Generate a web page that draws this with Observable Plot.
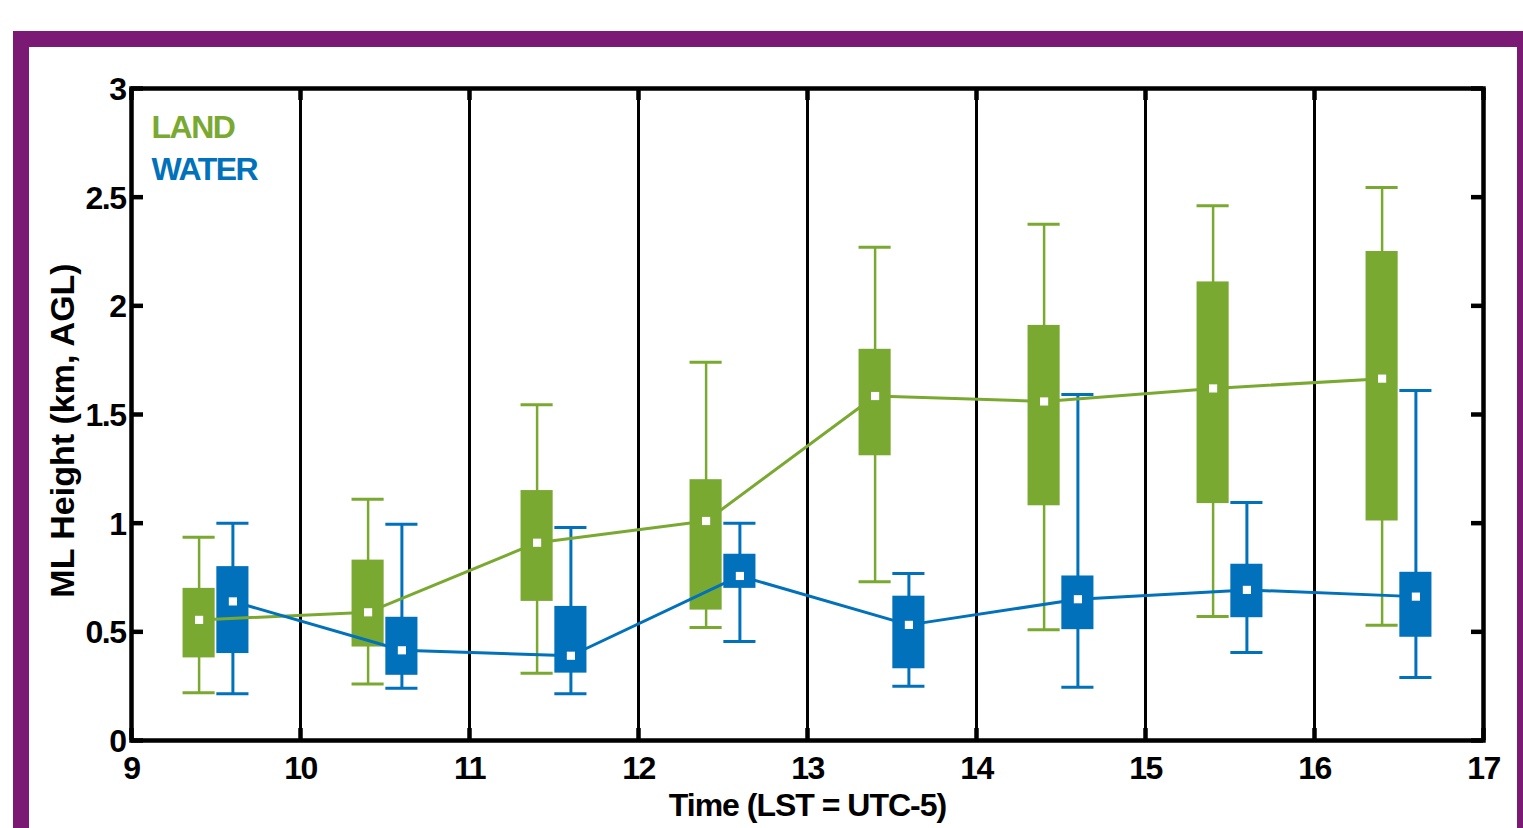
<!DOCTYPE html>
<html><head><meta charset="utf-8">
<script src="https://cdn.jsdelivr.net/npm/d3@7"></script>
<script src="https://cdn.jsdelivr.net/npm/@observablehq/plot@0.6"></script>
<style>
html,body{margin:0;padding:0;background:#fff;overflow:hidden;}
#wrap{position:relative;width:1523px;height:828px;overflow:hidden;background:#fff;}
#chart{position:absolute;left:0;top:0;}
#border{position:absolute;left:13px;top:31px;width:1520px;height:900px;border:16px solid #7B1A74;box-sizing:border-box;pointer-events:none;}
</style></head>
<body>
<div id="wrap"><div id="chart"></div><div id="border"></div></div>
<script>
// ---- data (km AGL) ----
const hours = [9, 10, 11, 12, 13, 14, 15, 16];
const landMin = [0.22, 0.26, 0.31, 0.52, 0.73, 0.51, 0.57, 0.53];
const landQ1  = [0.38, 0.43, 0.64, 0.60, 1.31, 1.08, 1.09, 1.01];
const landMed = [0.555, 0.59, 0.91, 1.01, 1.585, 1.56, 1.62, 1.665];
const landQ3  = [0.70, 0.83, 1.15, 1.20, 1.80, 1.91, 2.11, 2.25];
const landMax = [0.935, 1.11, 1.545, 1.74, 2.27, 2.375, 2.46, 2.545];
const waterMin = [0.215, 0.24, 0.215, 0.455, 0.25, 0.245, 0.405, 0.29];
const waterQ1  = [0.40, 0.30, 0.31, 0.70, 0.33, 0.51, 0.565, 0.475];
const waterMed = [0.64, 0.415, 0.39, 0.757, 0.532, 0.65, 0.693, 0.662];
const waterQ3  = [0.80, 0.567, 0.617, 0.857, 0.664, 0.757, 0.811, 0.774];
const waterMax = [1.0, 0.995, 0.98, 1.0, 0.768, 1.592, 1.095, 1.61];
const seriesNames = ["LAND", "WATER"];
const xTicks = [9, 10, 11, 12, 13, 14, 15, 16, 17];
const yTicks = [0, 0.5, 1, 1.5, 2, 2.5, 3];
const yTickLabels = ["0", "0.5", "1", "1.5", "2", "2.5", "3"];
const xLabel = "Time (LST = UTC-5)";
const yLabel = "ML Height (km, AGL)";

// ---- build ----
const green = "#7AA932", blue = "#0071BA";
const W = 1523, H = 828, mL = 131, mR = 40, mT = 88, mB = 88;
const pw = W - mL - mR, ph = H - mT - mB, tl = 12;
const hw = 0.095;
const mk = (off, mn, q1, md, q3, mx) => hours.map((h, i) => ({x: h + off, min: mn[i], q1: q1[i], med: md[i], q3: q3[i], max: mx[i]}));
const land = mk(0.4, landMin, landQ1, landMed, landQ3, landMax);
const water = mk(0.6, waterMin, waterQ1, waterMed, waterQ3, waterMax);

function boxMarks(data, color, ws) {
  return [
    Plot.ruleX(data, {x: "x", y1: "min", y2: "max", stroke: color, strokeWidth: ws}),
    Plot.ruleY(data, {x1: d => d.x - hw, x2: d => d.x + hw, y: "min", stroke: color, strokeWidth: 3}),
    Plot.ruleY(data, {x1: d => d.x - hw, x2: d => d.x + hw, y: "max", stroke: color, strokeWidth: 3}),
    Plot.rect(data, {x1: d => d.x - hw, x2: d => d.x + hw, y1: "q1", y2: "q3", fill: color})
  ];
}

const chart = Plot.plot({
  width: W, height: H,
  marginLeft: mL, marginRight: mR, marginTop: mT, marginBottom: mB,
  style: {fontFamily: "'Liberation Sans', Arial, Helvetica, sans-serif", background: "transparent"},
  x: {domain: [9, 17], axis: null},
  y: {domain: [0, 3], axis: null},
  marks: [
    Plot.ruleX(xTicks.slice(1, -1), {x: d => d, stroke: "black", strokeWidth: 3}),
    ...boxMarks(land, green, 2.5),
    ...boxMarks(water, blue, 3),
    Plot.line(land, {x: "x", y: "med", stroke: green, strokeWidth: 3}),
    Plot.line(water, {x: "x", y: "med", stroke: blue, strokeWidth: 3}),
    Plot.dot(land.concat(water), {x: "x", y: "med", symbol: "square", r: 4.6, fill: "white"}),
    Plot.frame({stroke: "black", strokeWidth: 4.5}),
    Plot.tickX(xTicks, {x: d => d, insetTop: ph - tl, stroke: "black", strokeWidth: 4.5}),
    Plot.tickX(xTicks, {x: d => d, insetBottom: ph - tl, stroke: "black", strokeWidth: 4.5}),
    Plot.tickY(yTicks, {y: d => d, insetRight: pw - tl, stroke: "black", strokeWidth: 4.5}),
    Plot.tickY(yTicks, {y: d => d, insetLeft: pw - tl, stroke: "black", strokeWidth: 4.5}),
    Plot.text(xTicks, {x: d => d, text: d => String(d), frameAnchor: "bottom", lineAnchor: "bottom", dy: 38, fontSize: 32, fontWeight: "bold", fill: "black"}),
    Plot.text(yTicks, {y: d => d, text: (d, i) => yTickLabels[i], frameAnchor: "left", textAnchor: "end", lineAnchor: "bottom", dx: -6, dy: 11.5, fontSize: 32, fontWeight: "bold", fill: "black"}),
    Plot.text([xLabel], {frameAnchor: "bottom", textAnchor: "middle", lineAnchor: "bottom", dy: 75, fontSize: 32, fontWeight: "bold", fill: "black"}),
    Plot.text([yLabel], {frameAnchor: "left", textAnchor: "middle", lineAnchor: "bottom", rotate: -90, dx: 73.5 - mL, dy: 16, fontSize: 34, fontWeight: "bold", fill: "black"}),
    Plot.text([seriesNames[0]], {frameAnchor: "top-left", textAnchor: "start", lineAnchor: "bottom", dx: 20, dy: 137 - mT, fontSize: 32, fontWeight: "bold", fill: green}),
    Plot.text([seriesNames[1]], {frameAnchor: "top-left", textAnchor: "start", lineAnchor: "bottom", dx: 20, dy: 179 - mT, fontSize: 32, fontWeight: "bold", fill: blue})
  ]
});
document.getElementById("chart").appendChild(chart);
d3.select(chart).selectAll("text").each(function() {
  const t = this.textContent;
  let ls = "-1.5px";
  if (t === yLabel) ls = "0px";
  else if (t === xLabel) ls = "-1px";
  d3.select(this).style("letter-spacing", ls);
});
</script>
</body></html>
